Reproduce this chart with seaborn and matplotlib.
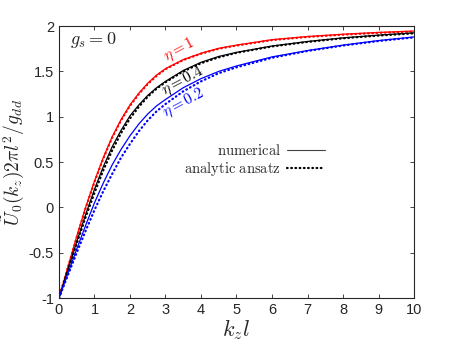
import numpy as np
import pandas as pd
import matplotlib
matplotlib.use("Agg")
import matplotlib.pyplot as plt
import seaborn as sns
from matplotlib.lines import Line2D

# values
kz = [0, 0.25, 0.5, 0.75, 1, 1.25, 1.5, 1.75, 2, 2.25, 2.5, 2.75, 3,
      3.5, 4, 4.5, 5, 6, 7, 8, 9, 10]

# numerical (solid)
num_eta1 = [-1, -0.66, -0.32, 0.0, 0.29, 0.55, 0.78, 0.97, 1.13, 1.26, 1.37, 1.46, 1.53,
            1.63, 1.70, 1.755, 1.79, 1.85, 1.885, 1.91, 1.93, 1.945]
num_eta04 = [-1, -0.69, -0.38, -0.08, 0.20, 0.45, 0.67, 0.85, 1.01, 1.13, 1.235, 1.32, 1.39,
             1.51, 1.60, 1.665, 1.71, 1.78, 1.83, 1.87, 1.90, 1.925]
num_eta02 = [-1, -0.73, -0.46, -0.20, 0.05, 0.27, 0.47, 0.64, 0.79, 0.92, 1.03, 1.12, 1.19,
             1.32, 1.42, 1.50, 1.56, 1.66, 1.73, 1.79, 1.84, 1.88]

# analytic ansatz (dotted)
ana_eta1 = [-1, -0.665, -0.33, -0.01, 0.28, 0.54, 0.77, 0.96, 1.12, 1.25, 1.36, 1.45, 1.525,
            1.625, 1.695, 1.75, 1.785, 1.845, 1.88, 1.905, 1.925, 1.94]
ana_eta04 = [-1, -0.70, -0.40, -0.11, 0.16, 0.41, 0.63, 0.82, 0.98, 1.11, 1.22, 1.31, 1.38,
             1.50, 1.59, 1.655, 1.705, 1.775, 1.825, 1.865, 1.895, 1.92]
ana_eta02 = [-1, -0.75, -0.50, -0.26, -0.03, 0.18, 0.37, 0.55, 0.70, 0.84, 0.96, 1.06, 1.14,
             1.28, 1.39, 1.48, 1.545, 1.65, 1.725, 1.785, 1.835, 1.875]

colors = ["#ff0000", "#000000", "#0000ff"]
eta_labels = [r"$\eta=1$", r"$\eta=0.4$", r"$\eta=0.2$"]

sns.set_style("ticks")
plt.rcParams["font.family"] = ["Liberation Sans", "DejaVu Sans"]
plt.rcParams["mathtext.fontset"] = "cm"
plt.rcParams["axes.unicode_minus"] = False
plt.rcParams["lines.dash_capstyle"] = "round"

dots = (0, (0.3, 1.6))

fig = plt.figure(figsize=(4.57, 3.43), dpi=100)
ax = fig.add_axes([0.129, 0.131, 0.777, 0.793])

for num, ana, c in zip([num_eta1, num_eta04, num_eta02],
                       [ana_eta1, ana_eta04, ana_eta02], colors):
    sns.lineplot(x=kz, y=num, color=c, lw=0.9, ax=ax)
    sns.lineplot(x=kz, y=ana, color=c, lw=1.6, ls=dots, ax=ax)

ax.set_xlim(0, 10)
ax.set_ylim(-1, 2)
ax.set_xticks(range(0, 11))
ax.set_yticks([-1, -0.5, 0, 0.5, 1, 1.5, 2])
ax.set_yticklabels(["-1", "-0.5", "0", "0.5", "1", "1.5", "2"])
ax.tick_params(direction="in", top=True, right=True, labelsize=10.5,
               length=3, width=0.6, colors="#262626")
for s in ax.spines.values():
    s.set_linewidth(0.8)
    s.set_color("#262626")

ax.set_xlabel(r"$k_zl$", fontsize=16, labelpad=0)
ax.set_ylabel(r"$\tilde{U}_0(k_z)2\pi l^2/g_{dd}$", fontsize=14, labelpad=2)

ax.text(0.3, 1.8, r"$g_s=0$", fontsize=13)
ax.text(3.4, 1.74, eta_labels[0], color=colors[0], fontsize=11, rotation=28,
        ha="center", va="center")
ax.text(3.5, 1.39, eta_labels[1], color=colors[1], fontsize=11, rotation=28,
        ha="center", va="center")
ax.text(3.52, 1.15, eta_labels[2], color=colors[2], fontsize=11, rotation=28,
        ha="center", va="center")

handles = [Line2D([], [], color="#444444", lw=0.8),
           Line2D([], [], color="k", lw=1.6, ls=dots)]
ax.legend(handles, [r"$\mathrm{numerical}$", r"$\mathrm{analytic\ ansatz}$"],
          loc="center right", bbox_to_anchor=(0.785, 0.505), frameon=False,
          markerfirst=False, fontsize=10.5, handlelength=2.6, handletextpad=0.4,
          labelspacing=0.1)

fig.savefig("out.png", dpi=100)
